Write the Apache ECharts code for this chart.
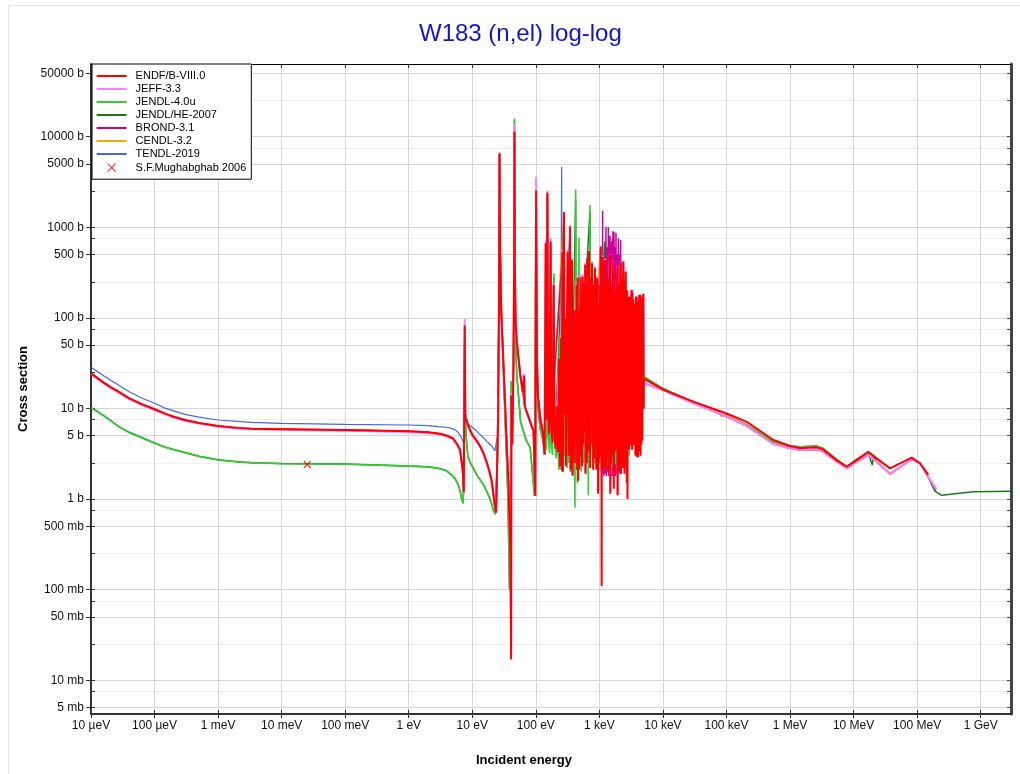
<!DOCTYPE html>
<html>
<head>
<meta charset="utf-8">
<script src="https://cdn.jsdelivr.net/npm/echarts@6/dist/echarts.min.js"></script>
<style>
html,body{margin:0;padding:0;background:#fff;}
#chart{width:1020px;height:774px;}
</style>
</head>
<body>
<div id="chart"></div>
<script>
// ---------------- data ----------------
const seriesNames = ['ENDF/B-VIII.0','JEFF-3.3','JENDL-4.0u','JENDL/HE-2007','BROND-3.1','CENDL-3.2','TENDL-2019'];
const pointName = 'S.F.Mughabghab 2006';

const xTickValues = [1e-5,1e-4,1e-3,1e-2,1e-1,1,10,100,1e3,1e4,1e5,1e6,1e7,1e8,1e9];
const xTickLabels = ['10 µeV','100 µeV','1 meV','10 meV','100 meV','1 eV','10 eV','100 eV','1 keV','10 keV','100 keV','1 MeV','10 MeV','100 MeV','1 GeV'];
const yTickValues = [0.005,0.01,0.05,0.1,0.5,1,5,10,50,100,500,1000,5000,10000,50000];
const yTickLabels = ['5 mb','10 mb','50 mb','100 mb','500 mb','1 b','5 b','10 b','50 b','100 b','500 b','1000 b','5000 b','10000 b','50000 b'];
const yMinorValues = [0.0075,0.025,0.075,0.25,0.75,2.5,7.5,25,75,250,750,2500,7500,25000];

// energy (eV), cross section (b)
const endf = [
[1e-5,24.4],[1.5e-5,19.8],[2e-5,17.3],[2.7e-5,15.3],[4e-5,12.9],[6e-5,11.3],[1e-4,9.8],[1.5e-4,8.7],[2e-4,8.1],[3e-4,7.45],[5e-4,6.9],[1e-3,6.4],[2e-3,6.1],[3.4e-3,5.97],[0.01,5.9],[0.1,5.78],[1,5.6],[2,5.45],[3.1,5.26],[4,5.0],[5.0,4.66],[5.8,4.0],[6.4,3.5],[6.8,2.6],[7.05,2.1],[7.35,1.19],[7.6,82],[7.76,7.8],[8.65,6.4],[10,5.1],[11.5,4.5],[13.2,3.86],[15,3.2],[16.9,2.53],[18.5,2.05],[20.2,1.58],[21.3,1.2],[22.3,0.9],[23.7,0.71],[25.5,8],[26.3,150],[26.8,6500],[27.4,600],[28.5,120],[31,30],[34,6],[37,1.5],[39.5,0.3],[40.3,0.078],[40.8,0.017],[41.2,14],[42.5,4],[44.5,30],[45.6,500],[46.1,11400],[46.7,400],[48,90],[50,56],[56.6,24],[62.4,15],[65.5,23],[67,10.5],[81.5,7.1],[92,5.6],[98,1.08],[101,2540],[104,35],[108,13.7],[117,7.8],[129,5.4],[137,3.1],
[143,664],[146,7.5],[152,2400],[156,8.5],[162,5.2],[171,690],[175,6.5],[183,4.2],[191,230],[196,6.2],[204,3.6],[214,10.5],[222,3.3],[232,35],[240,2.3],[250,60],[255,2.1],[261,537],[266,2.0],[272,56],[277,1460],[283,8.6],[290,99],[297,2.3],[305,35],[317,537],[326,3.0],[335,74],[345,1013],[352,2.1],[360,131],[370,435],[378,1.82],[388,35],[403,122],[410,2.5],[418,90],[428,4.4],[437,230],[446,2.1],[455,278],[464,1.58],[474,120],[484,2.1],[494,56],[503,278],[512,3.0],[522,191],[532,2.3],[546,284],[553,4.0],[563,90],[580,240],[588,5.4],[597,386],[606,1.9],[616,90],[626,230],[636,2.5],[646,454],[655,35],[666,3.35],[686,546],[695,5.4],[705,90],[716,2.2],[726,278],[735,7.8],[745,120],[765,400],[776,4.0],[789,200],[800,2.1],[812,230],[826,2.8],[840,144],[853,352],[866,5.4],[880,278],[893,2.1],[906,90],[918,3.7],[929,273],[942,191],[955,1.14],[968,131],[982,2.5],[996,62],
[1010,5.4],[1025,230],[1036,3.05],[1048,609],[1060,5.4],[1072,336],[1080,1.9],[1086,0.11],[1093,160],[1105,300],[1115,2.2],[1125,473],[1140,2.0],[1155,200],[1170,3.8],[1185,420],[1198,2.3],[1212,150],[1225,435],[1240,4.0],[1255,190],[1270,2.1],[1285,230],[1300,2.8],[1318,200],[1334,251],[1350,3.4],[1368,278],[1385,2.1],[1402,190],[1420,3.7],[1440,191],[1469,493],[1485,1.14],[1505,190],[1522,2.5],[1542,200],[1560,3.4],[1580,230],[1600,3.05],[1620,425],[1640,3.4],[1662,336],[1684,1.3],[1705,170],[1725,160],[1748,3.35],[1770,150],[1792,3.4],[1815,204],[1838,3.7],[1862,180],[1885,174],[1915,366],[1935,1.1],[1960,190],[1986,4.4],[2012,230],[2040,2.0],[2066,170],[2094,3.0],[2125,300],[2161,417],[2190,1.9],[2220,190],[2250,3.6],[2282,280],[2312,2.2],[2345,170],[2382,417],[2414,3.0],[2447,170],[2480,1.9],[2515,250],[2550,4.0],[2590,323],[2625,2.3],[2660,190],[2700,1.5],[2740,200],[2770,1.0],[2810,150],[2850,4.4],[2890,171],[2930,3.5],[2975,170],[3015,4.0],[3060,150],[3100,3.9],[3150,150],[3221,203],[3270,3.5],[3320,190],[3370,4.2],[3420,160],[3470,4.0],[3520,140],[3570,3.9],[3620,140],[3680,3.0],[3767,171],[3820,3.5],[3880,170],[3940,2.9],[4000,150],[4070,2.9],[4130,150],[4190,3.4],[4249,179],[4320,4.0],[4390,180],[4450,3.0],[4520,160],[4590,4.0],[4660,170],[4740,4.4],[4820,140],[4909,183],[4960,10],[5000,21.5],
[9800,16.3],[30000,11.9],[100000,8.8],[208000,7.1],[546000,4.48],[1e6,3.85],[1.44e6,3.63],[2.6e6,3.72],[3.3e6,3.53],[5.4e6,2.69],[7.8e6,2.27],[1.12e7,2.69],[1.7e7,3.33],[2.3e7,2.81],[3.74e7,2.18],[5.37e7,2.48],[8.2e7,2.86],[1.11e8,2.48],[1.5e8,1.85]
];

const jeff = [
[1e-5,24.0],[1.5e-5,19.4],[2e-5,17.0],[2.7e-5,15.0],[4e-5,12.7],[6e-5,11.1],[1e-4,9.6],[1.5e-4,8.55],[2e-4,7.95],[3e-4,7.3],[5e-4,6.8],[1e-3,6.3],[2e-3,6.0],[3.4e-3,5.88],[0.01,5.8],[0.1,5.68],[1,5.5],[2,5.35],[3.1,5.15],[4,4.9],[5.0,4.55],[5.8,3.9],[6.4,3.4],[6.8,2.5],[7.05,2.0],[7.35,1.15],[7.6,97],[7.76,7.6],[8.65,6.3],[10,5.0],[11.5,4.4],[13.2,3.8],[15,3.15],[16.9,2.48],[18.5,2.0],[20.2,1.55],[21.3,1.18],[22.3,0.88],[23.7,0.7],[25.5,8],[26.3,150],[26.8,6400],[27.4,600],[28.5,120],[31,30],[34,6],[37,1.5],[39.5,0.3],[40.3,0.078],[40.8,0.017],[41.2,15],[42.5,4],[44.5,30],[45.6,500],[46.1,13800],[46.7,400],[48,90],[50,56],[56.6,24],[62.4,15],[65.5,24],[67,10.5],[81.5,7.0],[92,5.5],[98,1.08],[101,3550],[104,35],[108,13.7],[117,7.8],[129,5.4],[137,3.1],
[143,710],[146,7.5],[152,2530],[156,8.5],[162,5.2],[171,760],[175,6.5],[183,4.2],[191,240],[196,6.2],[204,3.6],[232,35],[240,2.3],[261,560],[266,2.0],[277,1460],[283,8.6],[317,560],[326,3.0],[345,1050],[352,2.1],[370,450],[378,1.8],[437,250],[446,2.1],[503,300],[512,3.0],[546,300],[553,4.0],[597,400],[606,1.9],[686,560],[695,5.4],[765,420],[776,4.0],[853,370],[866,5.4],[929,280],[955,1.2],[1048,620],[1060,5.4],[1125,490],[1140,2.0],[1225,450],[1240,4.0],[1469,500],[1485,1.2],[1620,430],[1640,5.4],[1915,370],[1935,1.1],[2161,420],[2190,1.9],[2382,420],[2414,3.0],[2590,330],[2625,2.3],[2890,175],[2930,3.5],[3221,205],[3270,5.5],[3767,175],[3820,3.5],[4249,180],[4320,4.0],[4909,185],[4960,10],[5000,18.9],
[9800,16],[30000,11.4],[100000,8.2],[208000,6.4],[546000,4.05],[1e6,3.63],[1.44e6,3.47],[2.6e6,3.53],[3.3e6,3.33],[5.4e6,2.58],[7.8e6,2.18],[1.12e7,2.58],[1.7e7,3.06],[2.3e7,2.58],[3.74e7,1.89],[5.37e7,2.24],[8.2e7,2.76],[1.11e8,2.48],[1.46e8,1.79],[2e8,1.28]
];

const jendl4 = [
[1e-5,10.2],[1.5e-5,8.5],[2e-5,7.4],[2.7e-5,6.3],[4e-5,5.4],[6e-5,4.8],[1e-4,4.12],[1.5e-4,3.7],[2e-4,3.5],[3e-4,3.24],[5e-4,2.95],[1e-3,2.7],[2e-3,2.57],[3.4e-3,2.51],[0.01,2.45],[0.1,2.42],[1,2.31],[2,2.26],[2.9,2.18],[3.9,2.05],[4.7,1.84],[5.4,1.66],[6.0,1.43],[6.5,1.2],[6.8,1.0],[7.2,0.9],[7.5,8],[7.6,60],[7.7,9],[8.0,5],[8.5,3.0],[9.3,2.5],[10,2.3],[12,1.8],[15,1.43],[17,1.2],[19,1.0],[20,0.9],[21.5,0.75],[23,0.68],[25,3],[26.3,150],[26.8,6700],[27.3,800],[28.5,150],[31,25],[34,4],[36.5,1],[38.5,0.1],[40,2],[41,20],[43,10],[45,80],[45.7,800],[46.1,15900],[46.6,600],[48,60],[50,24],[57.6,7.1],[70,4.5],[81.5,3.7],[95,1.08],[101,2400],[103,40],[108,10],[117,6],[129,4.5],[140,3.1],
[143,600],[147,3.5],[152,2300],[157,5],[165,3.2],[171,650],[175,4],[183,3.06],[193,310],[198,4],[210,2.8],[222,6],[230,2.1],[234,65],[238,2.1],[255,400],[258,2.0],[277,1300],[283,3],[300,80],[310,2.2],[317,500],[325,2.5],[345,900],[352,2.0],[370,400],[380,1.8],[400,100],[413,0.8],[423,2620],[430,3],[440,100],[450,1.5],[478,766],[485,2.5],[500,200],[520,2.0],[546,250],[560,2.5],[580,220],[600,2.0],[646,400],[670,1.1],[690,300],[700,3],[711,1758],[720,2.5],[765,350],[790,2.2],[853,300],[880,2.5],[929,250],[960,2.4],[1048,500],[1070,2.2],[1125,400],[1150,2.0],[1225,380],[1260,2.1],[1334,230],[1370,2.3],[1469,450],[1500,2.0],[1600,300],[1650,2.2],[1750,150],[1800,2.4],[1915,330],[1950,2.3],[2161,380],[2200,2.2],[2382,380],[2420,2.5],[2590,300],[2650,2.6],[2890,160],[2950,3],[3221,190],[3300,4],[3767,160],[3850,3.5],[4249,170],[4350,4],[4909,170],[4960,10],[5000,22.4],
[9800,16.7],[30000,11.6],[100000,8.1],[208000,6.56],[546000,4.3],[1e6,3.85],[1.44e6,3.78],[2.6e6,3.85],[3.3e6,3.63],[5.4e6,2.74],[7.8e6,2.27],[1.12e7,2.76],[1.7e7,3.24],[2e7,3.06]
];

const jendlhe = [
[1e-5,10.3],[1.5e-5,8.55],[2e-5,7.45],[2.7e-5,6.35],[4e-5,5.45],[6e-5,4.83],[1e-4,4.15],[1.5e-4,3.72],[2e-4,3.52],[3e-4,3.26],[5e-4,2.97],[1e-3,2.72],[2e-3,2.58],[3.4e-3,2.52],[0.01,2.46],[0.1,2.43],[1,2.32],[2,2.27],[2.9,2.19],[3.9,2.06],[4.7,1.85],[5.4,1.67],[6.0,1.44],[6.5,1.2],[6.8,1.0],[7.2,0.9],[7.5,8],[7.6,60],[7.7,9],[8.0,5],[8.5,3.0],[9.3,2.5],[10,2.3],[12,1.8],[15,1.44],[17,1.2],[19,1.0],[20,0.9],[21.5,0.75],[23,0.68],[25,3],[26.3,150],[26.8,6600],[27.3,800],[28.5,150],[31,25],[34,4],[36.5,1],[38.5,0.1],[40,2],[41,20],[43,10],[45,80],[45.7,800],[46.1,15000],[46.6,600],[48,60],[50,24],[57.6,7.1],[70,4.5],[81.5,3.7],[95,1.1],[101,2300],[103,40],[108,10],[117,6],[129,4.5],[140,3.1],
[152,2200],[157,5],[171,600],[175,4],[193,280],[198,4],[277,1200],[283,3],[345,850],[352,2.0],[423,2000],[430,3],[711,1500],[720,2.5],[850,350],[860,2.5],[1225,700],[1240,2.5],[1300,2.4],[1400,2.6],[1469,420],[1500,2.0],[2161,360],[2200,2.2],[3221,185],[3300,4],[4909,165],[4960,10],[5000,22.4],
[9800,16.7],[30000,11.6],[100000,8.1],[208000,6.56],[546000,4.3],[1e6,3.85],[1.44e6,3.78],[2.6e6,3.85],[3.3e6,3.63],[5.4e6,2.74],[7.8e6,2.27],[1.12e7,2.76],[1.7e7,3.24],[1.97e7,2.37],[2.04e7,3.0],[2.3e7,2.6],[3.74e7,1.89],[5.37e7,2.24],[8.2e7,2.76],[1.11e8,2.48],[1.46e8,1.79],[1.91e8,1.22],[2.43e8,1.1],[7.66e8,1.2],[3e9,1.22]
];

const brond = [
[1e-5,24.4],[1.5e-5,19.8],[2e-5,17.3],[2.7e-5,15.3],[4e-5,12.9],[6e-5,11.3],[1e-4,9.8],[1.5e-4,8.7],[2e-4,8.1],[3e-4,7.45],[5e-4,6.9],[1e-3,6.4],[2e-3,6.1],[3.4e-3,5.97],[0.01,5.9],[0.1,5.78],[1,5.6],[2,5.45],[3.1,5.26],[4,5.0],[5.0,4.66],[5.8,4.0],[6.4,3.5],[6.8,2.6],[7.05,2.1],[7.35,1.19],[7.6,80],[7.76,7.8],[8.65,6.4],[10,5.1],[11.5,4.5],[13.2,3.86],[15,3.2],[16.9,2.53],[18.5,2.05],[20.2,1.58],[21.3,1.2],[22.3,0.9],[23.7,0.71],[25.5,8],[26.3,150],[26.8,6300],[27.4,600],[28.5,120],[31,30],[34,6],[37,1.5],[39.5,0.3],[40.3,0.08],[40.8,0.02],[41.2,13],[42.5,4],[44.5,30],[45.6,500],[46.1,11000],[46.7,400],[48,90],[50,56],[56.6,24],[62.4,15],[67,10.5],[81.5,7.1],[92,5.6],[98,1.1],[101,2500],[104,35],[108,13.7],[117,7.8],[129,5.4],[137,3.1],
[152,2300],[156,8.5],[171,650],[175,6.5],[261,500],[266,2.0],[277,1400],[283,8.6],[345,950],[352,2.1],[437,220],[446,2.1],[546,270],[553,4.0],[686,520],[695,5.4],[853,330],[866,5.4],[1048,580],[1060,3],
[1080,2.0],[1100,300],[1110,2.2],[1125,1510],[1135,1.9],[1160,500],[1180,1.8],[1210,650],[1240,1.9],[1270,1013],[1290,1.8],[1320,600],[1350,2.0],[1383,1000],[1405,1.8],[1440,700],[1469,800],[1490,1.9],[1530,500],[1560,700],[1585,1.8],[1620,600],[1640,900],[1665,1.8],[1698,890],[1720,2.0],[1760,600],[1790,1.8],[1825,870],[1850,1.9],[1890,500],[1930,1.8],[1986,754],[2010,2.0],[2060,500],[2100,1.9],[2161,724],[2190,2.0],[2250,300],[2290,2.2],[2350,250],[2400,2.5],[2590,300],[2625,2.5],[2890,160],[2930,3.6],[3221,190],[3270,5.5],[3767,165],[3820,3.6],[4249,170],[4320,4.1],[4909,175],[4960,10],[5000,19],
[9800,16],[30000,11.4],[100000,8.2],[208000,6.4],[546000,4.05],[1e6,3.63],[1.44e6,3.47],[2.6e6,3.53],[3.3e6,3.33],[5.4e6,2.58],[7.8e6,2.18],[1.12e7,2.58],[1.7e7,3.06],[2.3e7,2.58],[3.74e7,1.89],[5.37e7,2.24],[8.2e7,2.76],[1.11e8,2.48],[1.46e8,1.79],[2e8,1.28]
];

const cendl = [
[1e-5,24.4],[1.5e-5,19.8],[2e-5,17.3],[2.7e-5,15.3],[4e-5,12.9],[6e-5,11.3],[1e-4,9.8],[1.5e-4,8.7],[2e-4,8.1],[3e-4,7.45],[5e-4,6.9],[1e-3,6.4],[2e-3,6.1],[3.4e-3,5.97],[0.01,5.9],[0.1,5.78],[1,5.6],[2,5.45],[3.1,5.26],[4,5.0],[5.0,4.66],[5.8,4.0],[6.4,3.5],[6.8,2.6],[7.05,2.1],[7.35,1.19],[7.6,80],[7.76,7.8],[8.65,6.4],[10,5.1],[11.5,4.5],[13.2,3.86],[15,3.2],[16.9,2.53],[18.5,2.05],[20.2,1.58],[21.3,1.2],[22.3,0.9],[23.7,0.71],[25.5,8],[26.3,150],[26.8,6300],[27.4,600],[28.5,120],[31,30],[34,6],[37,1.5],[39.5,0.3],[40.3,0.08],[40.8,0.02],[41.2,13],[42.5,4],[44.5,30],[45.6,500],[46.1,11000],[46.7,400],[48,90],[50,56],[56.6,24],[67,10.5],[81.5,7.1],[92,5.6],[98,1.1],[101,2500],[104,35],[108,13.7],[117,7.8],[129,5.4],[137,3.1],
[152,2300],[156,8.5],[171,650],[175,6.5],[277,1400],[283,8.6],[345,950],[352,2.1],[546,270],[553,4.0],[1048,580],[1060,5.4],[1469,470],[1485,1.5],[2161,400],[2190,2.0],[3221,200],[3270,5.5],[4909,180],[4960,10],[5000,21],
[9800,16.3],[30000,11.7],[75000,9.1],[84000,8.1],[95000,8.7],[208000,6.6],[546000,4.2],[1e6,3.7],[1.44e6,3.47],[2.6e6,3.47],[3.3e6,3.4],[5.4e6,2.62],[7.8e6,2.22],[1.12e7,2.62],[1.7e7,3.15],[2e7,3.0]
];

const tendl = [
[1e-5,28.4],[1.5e-5,23.5],[2e-5,20.6],[2.7e-5,18.1],[4e-5,15.3],[6e-5,13.2],[1e-4,11.4],[1.5e-4,10.0],[2e-4,9.4],[3e-4,8.6],[5e-4,8.0],[1e-3,7.45],[2e-3,7.2],[3.4e-3,7.0],[0.01,6.85],[0.1,6.67],[1,6.56],[2,6.45],[2.9,6.3],[3.9,6.2],[4.7,6.03],[5.4,5.8],[6.0,5.4],[6.5,5.0],[6.8,4.8],[7.2,4.3],[7.45,3.2],[7.6,80],[7.75,9],[8.65,6.7],[10,6.2],[11.5,5.7],[13,5.2],[15,4.75],[17,4.3],[19,4.0],[20.5,3.8],[22.7,3.4],[25,5],[26.3,150],[26.8,6400],[27.4,600],[28.5,120],[31,30],[34,6],[37,1.5],[39.5,0.3],[40.8,0.05],[41.2,12],[42.5,4],[44.5,30],[45.6,500],[46.1,11000],[46.7,400],[48,90],[50,56],[56.6,24],[67,10.5],[81.5,7.1],[92,5.6],[98,1.2],[101,2400],[104,35],[108,13.7],[129,5.4],[137,3.2],
[152,2300],[156,8.5],[171,650],[175,6.5],[191,220],[200,5],[240,2.4],[255,4660],[258,3],[277,1400],[283,8],[345,950],[352,2.2],[437,220],[446,2.2],[686,520],[695,5.4],[1048,580],[1060,5.4],[1469,480],[1485,1.5],[2161,400],[2190,2.0],[3221,200],[3270,5.5],[4909,180],[4960,10],[5000,19],
[9800,16],[30000,11.4],[100000,8.2],[208000,6.4],[546000,4.05],[1e6,3.63],[1.44e6,3.47],[2.6e6,3.53],[3.3e6,3.33],[5.4e6,2.58],[7.8e6,2.18],[1.12e7,2.58],[1.7e7,3.06],[2.3e7,2.58],[3.74e7,1.89],[5.37e7,2.24],[8.2e7,2.76],[1.11e8,2.48],[1.46e8,1.79],[1.91e8,1.25],[2e8,1.22]
];

const mughabghab = [[0.0253, 2.4]];

// ---------------- chart ----------------
const FONT = "'Liberation Sans', Arial, Helvetica, sans-serif";
const xMin = 9.999e-6, xMax = 3e9, yMin = 0.00424, yMax = 63300;
const yAllTicks = yTickValues.concat(yMinorValues);
const LEGEND_LINE = 'path://M0,0M30,12M0,5L30,5L30,7L0,7Z';
const LEGEND_CROSS = 'path://M0,0M30,12M11,2L19,10M19,2L11,10';

function labelFor(v, vals, labels) {
  const lv = Math.log10(v);
  for (let i = 0; i < vals.length; i++) {
    if (Math.abs(Math.log10(vals[i]) - lv) < 0.01) return labels[i];
  }
  return '';
}

const colors = {
  'ENDF/B-VIII.0': '#ff0000',
  'JEFF-3.3': '#ff7dff',
  'JENDL-4.0u': '#33cc33',
  'JENDL/HE-2007': '#1a7a1a',
  'BROND-3.1': '#cc0099',
  'CENDL-3.2': '#ffa500',
  'TENDL-2019': '#4169e1'
};
const widths = {
  'ENDF/B-VIII.0': 2, 'JEFF-3.3': 2, 'JENDL-4.0u': 1.6, 'JENDL/HE-2007': 1.5,
  'BROND-3.1': 1.5, 'CENDL-3.2': 1.5, 'TENDL-2019': 1.2
};
const dataByName = {
  'ENDF/B-VIII.0': endf, 'JEFF-3.3': jeff, 'JENDL-4.0u': jendl4, 'JENDL/HE-2007': jendlhe,
  'BROND-3.1': brond, 'CENDL-3.2': cendl, 'TENDL-2019': tendl
};
const drawOrder = ['TENDL-2019','CENDL-3.2','BROND-3.1','JENDL/HE-2007','JENDL-4.0u','JEFF-3.3','ENDF/B-VIII.0'];

const series = drawOrder.map(function (name) {
  return {
    name: name, type: 'line', data: dataByName[name],
    xAxisIndex: 0, yAxisIndex: 0,
    showSymbol: false, symbol: 'none', silent: true, clip: true,
    lineStyle: { color: colors[name], width: widths[name] },
    itemStyle: { color: colors[name] },
    emphasis: { disabled: true }
  };
});
series.push({
  name: pointName, type: 'scatter', data: mughabghab, xAxisIndex: 0, yAxisIndex: 0,
  symbol: 'path://M0,0L10,10M10,0L0,10', symbolSize: 7, silent: true, z: 5,
  itemStyle: { color: 'rgba(255,0,0,0)', borderColor: '#ff0000', borderWidth: 1.3 },
  emphasis: { disabled: true }
});

function xAxisBase(extra) {
  return Object.assign({
    type: 'log', logBase: 10, min: xMin, max: xMax, gridIndex: 0,
    axisLabel: { show: false }, splitLine: { show: false },
    minorTick: { show: false }, minorSplitLine: { show: false }
  }, extra);
}
function yAxisBase(extra) {
  return Object.assign({
    type: 'log', logBase: 10, min: yMin, max: yMax, gridIndex: 0,
    axisLabel: { show: false }, splitLine: { show: false },
    minorTick: { show: false }, minorSplitLine: { show: false }
  }, extra);
}

const legendData = seriesNames.map(function (n) {
  return { name: n, icon: LEGEND_LINE, itemStyle: { color: colors[n], borderWidth: 0 } };
}).concat([
  { name: pointName, icon: LEGEND_CROSS,
    itemStyle: { color: 'rgba(255,0,0,0)', borderColor: '#ff0000', borderWidth: 1.2 } }
]);

const option = {
  animation: false,
  backgroundColor: '#ffffff',
  textStyle: { fontFamily: FONT },
  title: {
    text: 'W183 (n,el) log-log', left: 419, top: 22, padding: 0,
    textStyle: { fontFamily: FONT, fontSize: 24, fontWeight: 'normal', color: '#1414c8' }
  },
  grid: { left: 91, top: 64, width: 920, height: 650, containLabel: false, outerBoundsMode: 'none' },
  legend: {
    orient: 'vertical', left: 92, top: 64,
    padding: [6, 5, 5, 4], itemGap: 1, itemWidth: 30, itemHeight: 12,
    backgroundColor: '#ffffff', borderColor: '#000000', borderWidth: 1, borderRadius: 0,
    selectedMode: false,
    textStyle: { fontFamily: FONT, fontSize: 11, color: '#000', padding: [0, 0, 0, 4] },
    data: legendData
  },
  xAxis: [
    xAxisBase({
      position: 'bottom',
      name: 'Incident energy', nameLocation: 'middle', nameGap: 40,
      nameTextStyle: { fontFamily: FONT, fontSize: 13, fontWeight: 'bold', color: '#000', padding: [0, 54, 0, 0] },
      axisLine: { show: true, onZero: false, lineStyle: { color: '#333', width: 2 } },
      axisTick: { show: true, inside: false, length: 4, customValues: xTickValues, lineStyle: { color: '#333', width: 1 } },
      axisLabel: { show: true, customValues: xTickValues, margin: 6, fontFamily: FONT, fontSize: 12, color: '#111',
        formatter: function (v) { return labelFor(v, xTickValues, xTickLabels); } },
      splitLine: { show: true, lineStyle: { color: '#d6d6d6', width: 1 } }
    }),
    xAxisBase({
      position: 'bottom',
      axisLine: { show: false },
      axisTick: { show: true, inside: true, length: 4, customValues: xTickValues, lineStyle: { color: '#333', width: 1 } }
    }),
    xAxisBase({
      position: 'top',
      axisLine: { show: true, onZero: false, lineStyle: { color: '#000', width: 1 } },
      axisTick: { show: true, inside: true, length: 4, customValues: xTickValues, lineStyle: { color: '#333', width: 1 } }
    })
  ],
  yAxis: [
    yAxisBase({
      position: 'left',
      name: 'Cross section', nameLocation: 'middle', nameGap: 57,
      nameTextStyle: { fontFamily: FONT, fontSize: 13, fontWeight: 'bold', color: '#000' },
      axisLine: { show: true, onZero: false, lineStyle: { color: '#333', width: 2 } },
      axisTick: { show: true, inside: false, length: 5, customValues: yTickValues, lineStyle: { color: '#333', width: 1 } },
      axisLabel: { show: true, customValues: yTickValues, margin: 7, fontFamily: FONT, fontSize: 12, color: '#111',
        formatter: function (v) { return labelFor(v, yTickValues, yTickLabels); } },
      splitLine: { show: true, lineStyle: { color: '#d6d6d6', width: 1 } }
    }),
    yAxisBase({
      position: 'left',
      axisLine: { show: false },
      axisTick: { show: true, inside: true, length: 4, customValues: yAllTicks, lineStyle: { color: '#333', width: 1 } }
    }),
    yAxisBase({
      position: 'right',
      axisLine: { show: true, onZero: false, lineStyle: { color: '#444', width: 3 } },
      axisTick: { show: true, inside: true, length: 4, customValues: yAllTicks, lineStyle: { color: '#444', width: 1 } }
    }),
    yAxisBase({
      position: 'left',
      axisLine: { show: false },
      axisTick: { show: false, customValues: yMinorValues },
      splitLine: { show: true, lineStyle: { color: '#efefef', width: 1 } }
    })
  ],
  graphic: [{
    type: 'rect', silent: true, z: -10,
    shape: { x: 8.5, y: 5.5, width: 1100, height: 1000 },
    style: { fill: 'none', stroke: '#e4e4e4', lineWidth: 1 }
  }],
  series: series
};

const chart = echarts.init(document.getElementById('chart'), null, { renderer: 'canvas' });
chart.setOption(option);
</script>
</body>
</html>
